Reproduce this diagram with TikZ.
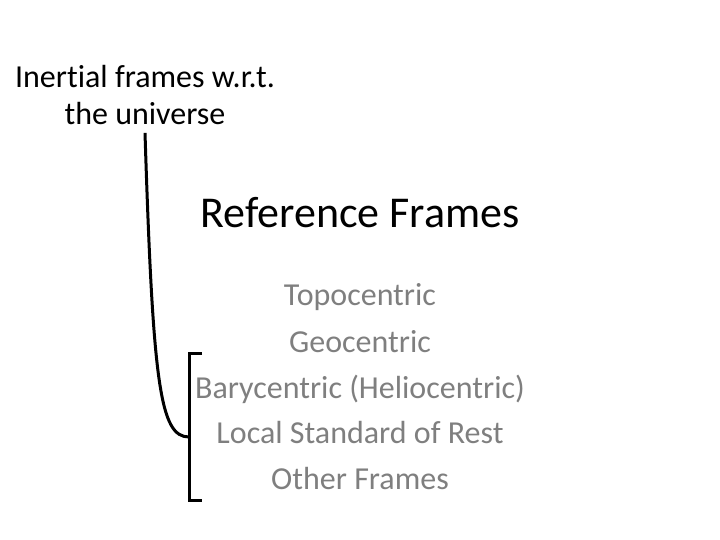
\documentclass[tikz,border=0pt]{standalone}
\usepackage{fontspec}
\setmainfont[Ligatures=NoCommon]{Carlito}
\usetikzlibrary{positioning}
\definecolor{framegray}{RGB}{127,127,127}

\begin{document}
\begin{tikzpicture}[x=1pt,y=-1pt,
    bigtitle/.style={font=\fontsize{44}{53}\selectfont,inner sep=0pt},
    framename/.style={font=\fontsize{32}{38}\selectfont,text=framegray,inner sep=0pt,anchor=base},
    bracket/.style={line width=3pt}]
  \useasboundingbox (0,0) rectangle (720,540);
  % upper left label
  \node[font=\fontsize{32}{37}\selectfont,align=center,inner sep=0pt] (inertial) at (145,95)
    {Inertial frames w.r.t.\\the universe};
  \node[bigtitle] (title) at (360,213) {Reference Frames};
  % list of frames
  \node[framename] (topo)  at (360,305) {Topocentric};
  \node[framename] (geo)   at (360,352) {Geocentric};
  \node[framename] (bary)  at (360,398) {Barycentric (Heliocentric)};
  \node[framename] (lsr)   at (360,443) {Local Standard of Rest};
  \node[framename] (other) at (360,489) {Other Frames};
  % bracket
  \coordinate (brtop) at (202,353);
  \coordinate (brmid) at (189,437);
  \coordinate (brbot) at (202,500);
  \draw[bracket] (brtop) -| (brmid) |- (brbot);
  \draw[bracket] ([yshift=-8pt]inertial.south) .. controls (153,385) and (160,437) .. (brmid);
\end{tikzpicture}
\end{document}
